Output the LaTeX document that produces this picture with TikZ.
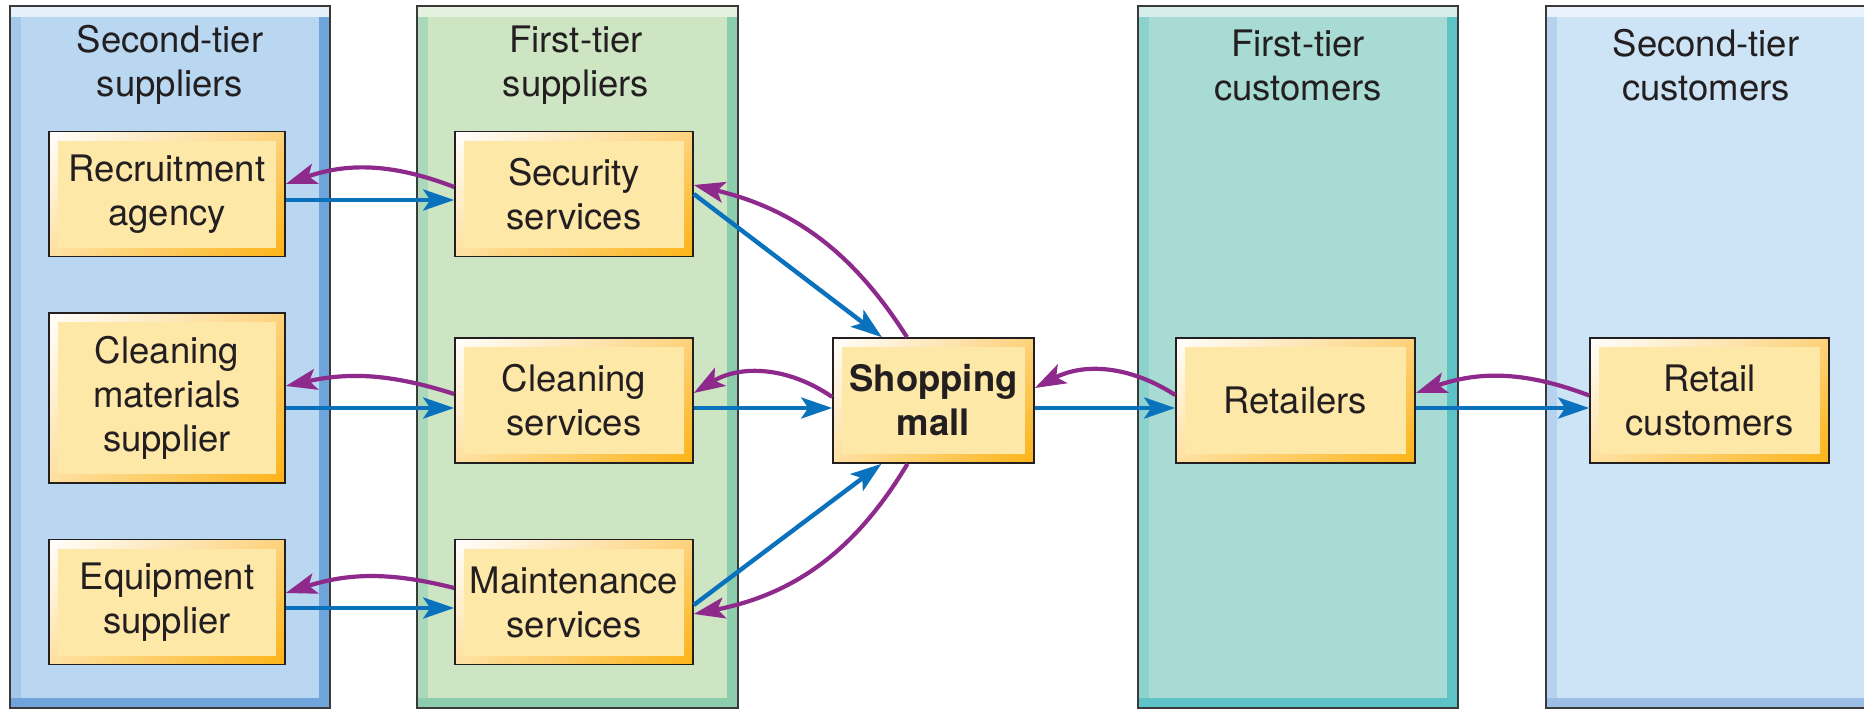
\documentclass[tikz,border=0pt]{standalone}
\usepackage{fontspec}
\setmainfont{TeX Gyre Heros}
\usetikzlibrary{arrows.meta,calc,shadings}

% text and outlines
\definecolor{txt}{HTML}{231F20}
\definecolor{frame}{HTML}{3A3A3A}
% connectors
\definecolor{flowblue}{HTML}{0A71BC}
\definecolor{flowpurple}{HTML}{8E2A8C}
% boxes
\definecolor{boxfill}{HTML}{FEE8A8}
\definecolor{boxglow}{HTML}{FDD27C}
\definecolor{boxlow}{HTML}{FEE0A0}
\definecolor{boxdeep}{HTML}{FCB316}
% tier columns: main, side, edge, top
\definecolor{sAmain}{HTML}{B9D7F0}\definecolor{sAside}{HTML}{A5C8EA}\definecolor{sAedge}{HTML}{6FA5DA}\definecolor{sAtop}{HTML}{E6F0FA}
\definecolor{fAmain}{HTML}{CDE5C3}\definecolor{fAside}{HTML}{A9D8BB}\definecolor{fAedge}{HTML}{8BCDAD}\definecolor{fAtop}{HTML}{E4F1DE}
\definecolor{fBmain}{HTML}{A7DBD4}\definecolor{fBside}{HTML}{8ED2CE}\definecolor{fBedge}{HTML}{5DC3C6}\definecolor{fBtop}{HTML}{D6EEEA}
\definecolor{sBmain}{HTML}{CDE3F6}\definecolor{sBside}{HTML}{B6D2EF}\definecolor{sBedge}{HTML}{9DBEE6}\definecolor{sBtop}{HTML}{EAF2FB}

% a tier column: x1, x2, main, side, edge, top
\newcommand\tiercolumn[6]{%
  \fill[#5] (#1,6) rectangle (#2,708);
  \fill[#4] (#1,6) rectangle (#1+11,698);
  \fill[#3] (#1+11,17) rectangle (#2-11,698);
  \fill[#6] (#1,6) rectangle (#2,17);
  \draw[frame, line width=1.2pt] (#1,6) rectangle (#2,708);
}

\tikzset{
  tierbox/.style={draw=txt, line width=1.6pt, inner sep=0pt,
    minimum width=238pt, minimum height=125pt, align=center, text=txt,
    font=\fontsize{36.5}{44}\selectfont,
    path picture={
      \shade[upper left=white, upper right=boxglow, lower left=boxlow, lower right=boxdeep]
        (path picture bounding box.south west) rectangle (path picture bounding box.north east);
      \fill[boxfill] ([shift={(9pt,9pt)}]path picture bounding box.south west)
        rectangle ([shift={(-9pt,-9pt)}]path picture bounding box.north east);
    }},
  coltitle/.style={align=center, text=txt, inner sep=0pt, font=\fontsize{36.5}{44}\selectfont},
  supply/.style={draw=flowblue, line width=4.4pt, -{Stealth[length=31pt,width=21pt,inset=7pt]}},
  feedback/.style={draw=flowpurple, line width=4.2pt, -{Stealth[length=31pt,width=21pt,inset=7pt]}},
}

\begin{document}
\begin{tikzpicture}[x=1pt, y=-1pt]
\useasboundingbox (0,0) rectangle (1864,709);
\fill[white] (0,0) rectangle (1864,709);
\clip (0,0) rectangle (1864,709);

% tier columns
\tiercolumn{10}{330}{sAmain}{sAside}{sAedge}{sAtop}
\tiercolumn{417}{738}{fAmain}{fAside}{fAedge}{fAtop}
\tiercolumn{1138}{1458}{fBmain}{fBside}{fBedge}{fBtop}
\tiercolumn{1546}{1890}{sBmain}{sBside}{sBedge}{sBtop}

% column titles
\node[coltitle] (t1) at (170,65) {Second-tier\\suppliers};
\node[coltitle] (t2) at (576,65) {First-tier\\suppliers};
\node[coltitle] (t3) at (1298,65) {First-tier\\customers};
\node[coltitle] (t4) at (1706,65) {Second-tier\\customers};

% second-tier suppliers
\node[tierbox, minimum width=236pt] (rec) at (167,194) {Recruitment\\agency};
\node[tierbox, minimum width=236pt, minimum height=170pt] (cmat) at (167,398) {Cleaning\\materials\\supplier};
\node[tierbox, minimum width=236pt] (equ) at (167,602) {Equipment\\supplier};
% first-tier suppliers
\node[tierbox] (sec) at (574,194) {Security\\services};
\node[tierbox] (csv) at (574,400.5) {Cleaning\\services};
\node[tierbox] (mnt) at (574,602) {Maintenance\\services};
% focal operation
\node[tierbox, minimum width=201pt, font=\fontsize{36.5}{44}\selectfont\bfseries] (mall) at (933.5,400.5) {Shopping\\mall};
% customers
\node[tierbox, minimum width=239pt] (ret) at (1295.5,400.5) {Retailers};
\node[tierbox, minimum width=239pt] (rcu) at (1709.5,400.5) {Retail\\customers};

% supplier side
\draw[supply] ([yshift=-6pt]rec.east) -- ([yshift=-6pt]sec.west);
\draw[feedback] ([yshift=7pt]sec.west) to[bend right=20] ([yshift=10pt]rec.east);
\draw[supply] ([yshift=-10pt]cmat.east) -- ([yshift=-7.5pt]csv.west);
\draw[feedback] ([yshift=6.5pt]csv.west) to[bend right=15] ([yshift=12pt]cmat.east);
\draw[supply] ([yshift=-6pt]equ.east) -- ([yshift=-6pt]mnt.west);
\draw[feedback] ([yshift=14pt]mnt.west) to[bend right=16] ([yshift=9pt]equ.east);

% first tier to the mall
\draw[supply] (sec.east) -- ([xshift=-51.5pt]mall.north);
\draw[feedback] ([xshift=-26.5pt]mall.north) to[bend right=22] ([yshift=9pt]sec.east);
\draw[supply] ([yshift=-7.5pt]csv.east) -- ([yshift=-7.5pt]mall.west);
\draw[feedback] ([yshift=3.5pt]mall.west) to[bend right=33] ([yshift=7.5pt]csv.east);
\draw[supply] ([yshift=-3pt]mnt.east) -- ([xshift=-52pt]mall.south);
\draw[feedback] ([xshift=-26pt]mall.south) to[bend left=24] ([yshift=-12pt]mnt.east);

% customer side
\draw[supply] ([yshift=-7.5pt]mall.east) -- ([yshift=-7.5pt]ret.west);
\draw[feedback] ([yshift=5.5pt]ret.west) to[bend right=30] ([yshift=12.5pt]mall.east);
\draw[supply] ([yshift=-7.5pt]ret.east) -- ([yshift=-7.5pt]rcu.west);
\draw[feedback] ([yshift=5pt]rcu.west) to[bend right=20] ([yshift=7.5pt]ret.east);
\end{tikzpicture}
\end{document}
